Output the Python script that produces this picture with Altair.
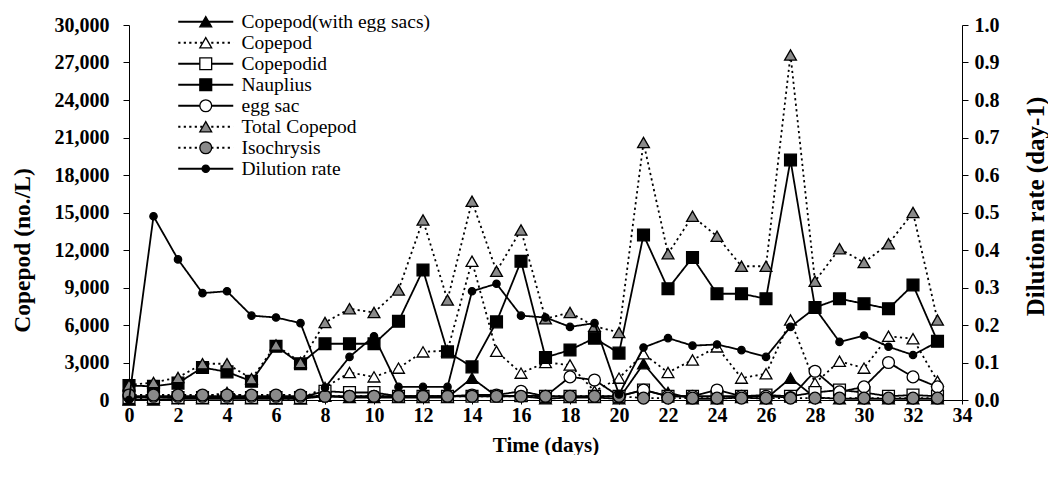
import altair as alt
import pandas as pd

# Sampling days
days = list(range(34))

# Left axis series (no./L)
with_egg_sacs = [0, 0, 100, 100, 100, 100, 100, 100, 300, 200, 200, 200, 200, 200, 1750, 300, 300,
                 100, 200, 200, 100, 2900, 600, 100, 100, 200, 100, 1750, 200, 100, 100, 100, 100, 100]
copepod = [50, 250, 350, 250, 600, 200, 100, 100, 1000, 2200, 1850, 2550, 3850, 3950, 11100, 3900, 2150,
           3000, 2800, 700, 1750, 3700, 2200, 3200, 4250, 1750, 2100, 6400, 1350, 3100, 2550, 5100, 4900, 1500]
copepodid = [200, 200, 200, 200, 200, 200, 200, 200, 700, 600, 600, 300, 300, 300, 300, 300, 350,
             300, 300, 300, 300, 800, 300, 300, 300, 300, 400, 300, 600, 800, 600, 300, 400, 300]
nauplius = [1150, 1100, 1350, 2600, 2250, 1500, 4300, 2900, 4500, 4500, 4500, 6300, 10400, 3850, 2650, 6250, 11100,
            3400, 4000, 4950, 3750, 13200, 8900, 11400, 8500, 8500, 8100, 19200, 7400, 8100, 7700, 7300, 9200, 4700]
egg_sac = [300, 300, 300, 300, 300, 300, 300, 300, 300, 300, 300, 300, 300, 300, 400, 400, 700,
           300, 1850, 1600, 300, 800, 300, 300, 800, 300, 300, 200, 2300, 650, 1050, 3000, 1850, 1050]
total_copepod = [1200, 1400, 1800, 2900, 2900, 1700, 4400, 3000, 6200, 7300, 7000, 8800, 14400, 8000, 15900, 10300, 13600,
                 6500, 7000, 5900, 5400, 20600, 11700, 14700, 13100, 10700, 10700, 27600, 9500, 12100, 11000, 12500, 15000, 6400]
isochrysis = [400, 400, 400, 400, 400, 400, 400, 400, 300, 300, 300, 300, 300, 300, 300, 300, 300,
              300, 300, 300, 300, 150, 150, 150, 150, 150, 150, 150, 150, 150, 150, 150, 150, 150]

# Right axis series (day-1)
dilution_rate = [0.0, 0.49, 0.375, 0.285, 0.29, 0.225, 0.22, 0.205, 0.033, 0.115, 0.17, 0.035, 0.035, 0.035, 0.29, 0.31, 0.225,
                 0.22, 0.195, 0.205, 0.015, 0.14, 0.165, 0.145, 0.148, 0.133, 0.115, 0.195, 0.245, 0.155, 0.172, 0.142, 0.12, 0.155]

series_names = ["Copepod(with egg sacs)", "Copepod", "Copepodid", "Nauplius",
                "egg sac", "Total Copepod", "Isochrysis", "Dilution rate"]
marker_ids = list(range(len(series_names)))
left_values = [with_egg_sacs, copepod, copepodid, nauplius, egg_sac, total_copepod, isochrysis]

SOLID = [1, 0]
DOTTED = [2.2, 3.3]
dash_range = [SOLID, DOTTED, SOLID, SOLID, SOLID, DOTTED, DOTTED, SOLID]
small_dot = "M0,-0.62A0.62,0.62,0,1,1,0,0.62A0.62,0.62,0,1,1,0,-0.62Z"
shape_range = ["triangle-up", "triangle-up", "square", "square", "circle", "triangle-up", "circle", small_dot]
GRAY = "#8a8a8a"
fill_range = ["black", "white", "white", "black", "white", GRAY, GRAY, "black"]
stroke_range = ["black"] * len(series_names)

rows = []
for i, (name, vals) in enumerate(zip(series_names[:7], left_values)):
    for d, v in zip(days, vals):
        rows.append({"day": d, "value": v, "series": name, "marker": i})
left_df = pd.DataFrame(rows)
dil_df = pd.DataFrame({"day": days, "value": dilution_rate,
                       "series": "Dilution rate", "marker": 7})

FONT = "Liberation Serif"
SYM = 140
LEG_X = 67
LEG_Y = -13
LINE_W = 1.8

dash_scale = alt.Scale(domain=series_names, range=dash_range)
shape_scale = alt.Scale(domain=marker_ids, range=shape_range)
fill_scale = alt.Scale(domain=marker_ids, range=fill_range)
stroke_scale = alt.Scale(domain=marker_ids, range=stroke_range)

# Two overlaid legends: the line samples with their labels, and the markers on top
line_legend = alt.Legend(
    title=None, orient="none", legendX=LEG_X, legendY=LEG_Y, padding=0,
    symbolType="M-4.65,0H4.65", symbolSize=SYM, symbolStrokeColor="black", symbolStrokeWidth=LINE_W,
    labelFont=FONT, labelFontSize=19.5, labelColor="black", labelOffset=26, rowPadding=0,
    labelLimit=400, zindex=1,
)
marker_legend = alt.Legend(
    title=None, orient="none", legendX=LEG_X, legendY=LEG_Y, padding=0,
    symbolSize=SYM, symbolStrokeWidth=1.3, labelExpr="''",
    labelFont=FONT, labelFontSize=19.5, labelOffset=26, rowPadding=0,
    labelLimit=400, zindex=2,
)

x_enc = alt.X(
    "day:Q",
    scale=alt.Scale(domain=[0, 34], nice=False),
    axis=alt.Axis(
        title="Time (days)", values=list(range(0, 35, 2)), grid=False,
        labelFont=FONT, labelFontSize=20, labelFontWeight="bold", labelColor="black",
        labelFlush=False, labelOverlap=False, labelPadding=1,
        titleFont=FONT, titleFontSize=21, titleFontWeight="bold", titleColor="black", titlePadding=9,
        domainColor="black", tickColor="black", tickSize=4,
    ),
)

y_left = alt.Y(
    "value:Q",
    scale=alt.Scale(domain=[0, 30000], nice=False),
    axis=alt.Axis(
        title="Copepod (no./L)", orient="left", values=list(range(0, 30001, 3000)), format=",.0f",
        grid=False, labelFont=FONT, labelFontSize=20, labelFontWeight="bold", labelColor="black",
        labelPadding=14, titleFont=FONT, titleFontSize=23.5, titleFontWeight="bold", titleColor="black",
        titlePadding=20, titleY=225, domainColor="black", tickColor="black", tickSize=6,
    ),
)

y_right = alt.Y(
    "value:Q",
    scale=alt.Scale(domain=[0, 1], nice=False),
    axis=alt.Axis(
        title="Dilution rate (day-1)", orient="right", values=[i / 10 for i in range(11)], format=".1f",
        grid=False, labelFont=FONT, labelFontSize=20, labelFontWeight="bold", labelColor="black",
        labelPadding=6, titleFont=FONT, titleFontSize=25, titleFontWeight="bold", titleColor="black",
        titleAngle=270, titleBaseline="top", titlePadding=24, titleY=181,
        domainColor="black", tickColor="black", tickSize=6,
    ),
)

def marker_channels():
    return dict(
        shape=alt.Shape("marker:N", scale=shape_scale, legend=marker_legend),
        fill=alt.Fill("marker:N", scale=fill_scale, legend=marker_legend),
        stroke=alt.Stroke("marker:N", scale=stroke_scale, legend=marker_legend),
    )

left_lines = alt.Chart(left_df).mark_line(color="black", strokeWidth=LINE_W).encode(
    x=x_enc, y=y_left,
    strokeDash=alt.StrokeDash("series:N", scale=dash_scale, legend=line_legend),
)
left_points = alt.Chart(left_df).mark_point(
    filled=True, size=SYM, strokeWidth=1.3, opacity=1, fillOpacity=1
).encode(x=x_enc, y=y_left, **marker_channels())

right_line = alt.Chart(dil_df).mark_line(color="black", strokeWidth=LINE_W).encode(
    x=x_enc, y=y_right,
    strokeDash=alt.StrokeDash("series:N", scale=dash_scale, legend=line_legend),
)
right_points = alt.Chart(dil_df).mark_point(
    filled=True, size=SYM, strokeWidth=1.3, opacity=1, fillOpacity=1
).encode(x=x_enc, y=y_right, **marker_channels())

left = alt.layer(left_lines, left_points)
right = alt.layer(right_line, right_points)

chart = (
    alt.layer(left, right)
    .resolve_scale(y="independent")
    .properties(width=833, height=375, padding={"left": 10, "top": 12, "right": 0, "bottom": 0},
                background="white")
    .configure_view(stroke=None)
)

chart.save("out.html", embed_options={"renderer": "svg", "actions": False})
